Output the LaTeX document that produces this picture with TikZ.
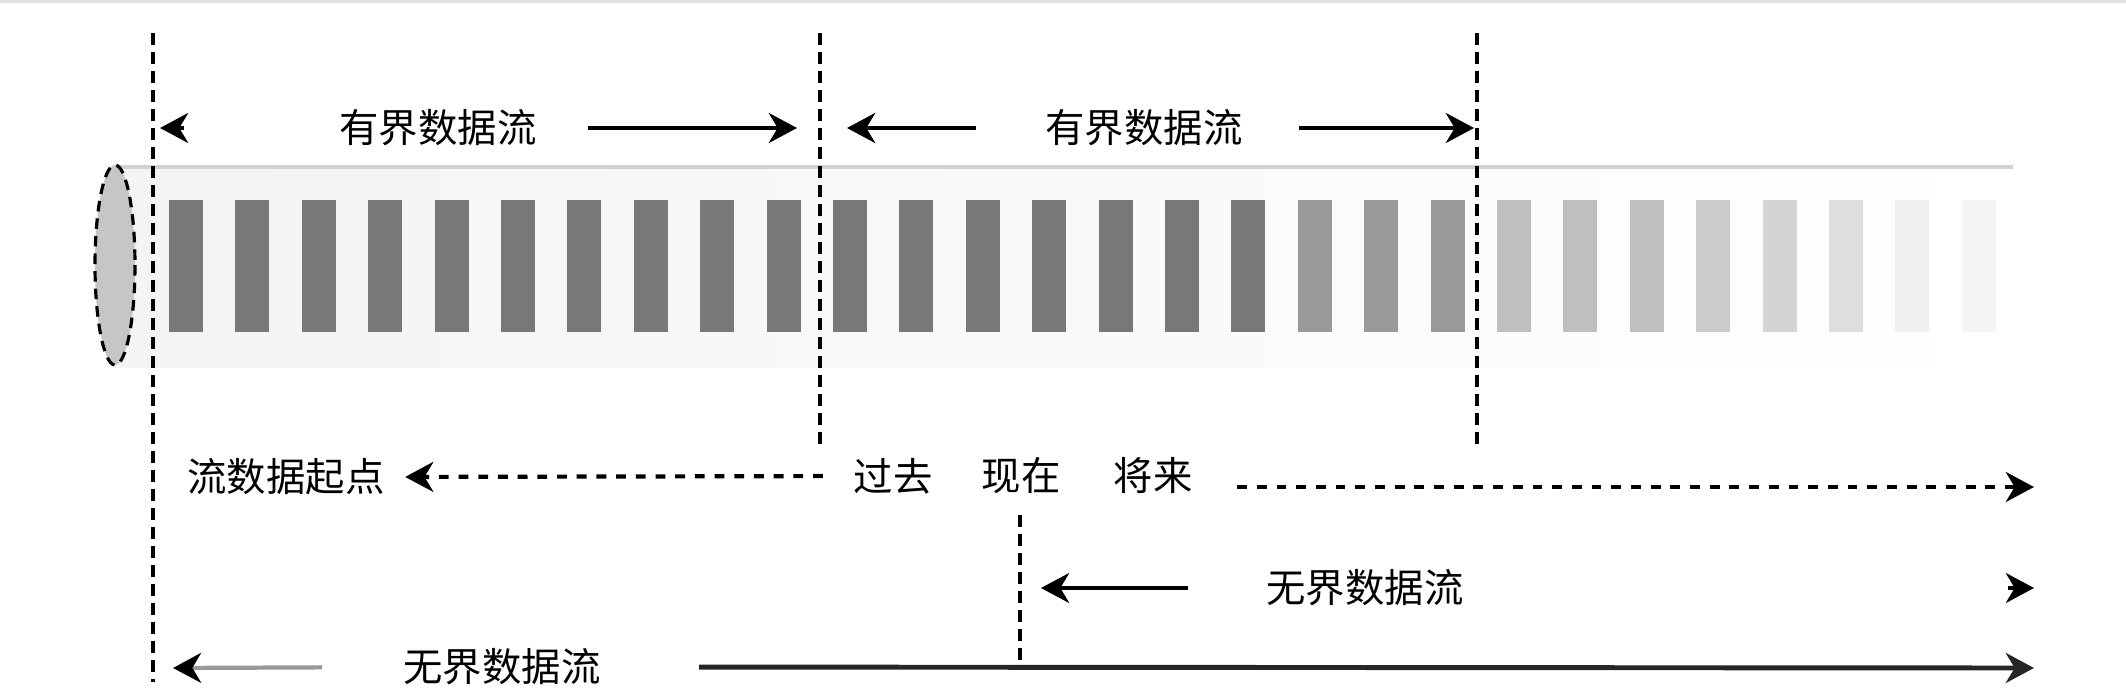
\documentclass[tikz,border=0pt]{standalone}
\usepackage{fontspec}
\usepackage{tikz}
\usetikzlibrary{arrows.meta}
\newfontfamily\cjk{Noto Sans CJK SC}
\def\tube{(115,167) rectangle (2013,367)}
\def\tubeend{(115,265) ellipse (20 and 100)}

\begin{document}
\begin{tikzpicture}[x=0.01cm, y=-0.01cm,
  lbl/.style={inner sep=0pt, font=\cjk\fontsize{11.2}{13}\selectfont},
  guide/.style={line width=0.9pt, dash pattern=on 3.4pt off 2pt},
  arr/.style={line width=1.2pt, -{Stealth[length=8pt,width=8.5pt,inset=2.5pt]}},
  dotarr/.style={arr, dash pattern=on 2.8pt off 2.8pt}]
  \useasboundingbox (0,0) rectangle (2126,700);
  \fill[white] (0,0) rectangle (2126,700);
  \draw[gray!25, line width=1pt] (0,1) -- (2126,1);
  % the stream
  \shade[left color=gray!9, right color=white] \tube;
  \draw[gray!35, line width=1.3pt] (115,167) -- (2013,167);
  \foreach \i in {0,...,16}
    \fill[black!53] ({169+66.4*\i},200) rectangle ++(34,132);
  \foreach \i/\c in {17/40,18/40,19/40,20/25,21/25,22/25,23/20,24/17,25/13,26/6,27/4}
    \fill[black!\c] ({169+66.4*\i},200) rectangle ++(34,132);
  \filldraw[fill=gray!45, draw=black, line width=0.9pt, dash pattern=on 3pt off 2pt] \tubeend;
  % time marks
  \coordinate (g1a) at (153,33);  \coordinate (g1b) at (153,682);
  \coordinate (g2a) at (820,33);  \coordinate (g2b) at (820,447);
  \coordinate (g3a) at (1477,33); \coordinate (g3b) at (1477,447);
  \coordinate (g4a) at (1020,515); \coordinate (g4b) at (1020,665);
  \draw[guide] (g1a) -- (g1b);
  \draw[guide] (g2a) -- (g2b);
  \draw[guide] (g3a) -- (g3b);
  \draw[guide] (g4a) -- (g4b);
  % labels
  \node[lbl] (bd1) at (438,128) {有界数据流};
  \node[lbl] (bd2) at (1144,128) {有界数据流};
  \node[lbl] (origin) at (286,477) {流数据起点};
  \node[lbl] (past) at (893,476) {过去};
  \node[lbl] (now) at (1021,476) {现在};
  \node[lbl] (future) at (1153,476) {将来};
  \node[lbl] (ub1) at (1365,588) {无界数据流};
  \node[lbl] (ub2) at (502,667) {无界数据流};
  % bounded
  \coordinate (b1s) at (184,128); \coordinate (b1l) at (160,128);
  \coordinate (b1r) at (797,128);
  \coordinate (b2l) at (847,128); \coordinate (b2r) at (1474,128);
  \draw[arr] (b1s) -- (b1l);
  \draw[arr, shorten <=0.51cm] (bd1.east) -- (b1r);
  \draw[arr, shorten <=0.69cm] (bd2.west) -- (b2l);
  \draw[arr, shorten <=0.56cm] (bd2.east) -- (b2r);
  % time line
  \coordinate (fut) at (2034,487);
  \draw[dotarr, shorten <=0.3cm, shorten >=0.2cm] (past.west) -- (origin.east);
  \draw[dotarr, shorten <=0.44cm] (future.east |- fut) -- (fut);
  % unbounded
  \coordinate (ub1l) at (1041,588); \coordinate (ub1s) at (2008,588);
  \coordinate (ub1r) at (2034,588);
  \coordinate (ub2l) at (173,668); \coordinate (ub2r) at (2034,668);
  \draw[arr, shorten <=0.78cm] (ub1.west) -- (ub1l);
  \draw[arr] (ub1s) -- (ub1r);
  \draw[line width=1.2pt, gray!80, -{Stealth[length=8pt,width=8.5pt,inset=2.5pt,color=black]},
    shorten <=0.81cm] (ub2.west) -- (ub2l);
  \draw[arr, black!85, line width=1.4pt, shorten <=0.98cm] (ub2.east) -- (ub2r);
\end{tikzpicture}
\end{document}
